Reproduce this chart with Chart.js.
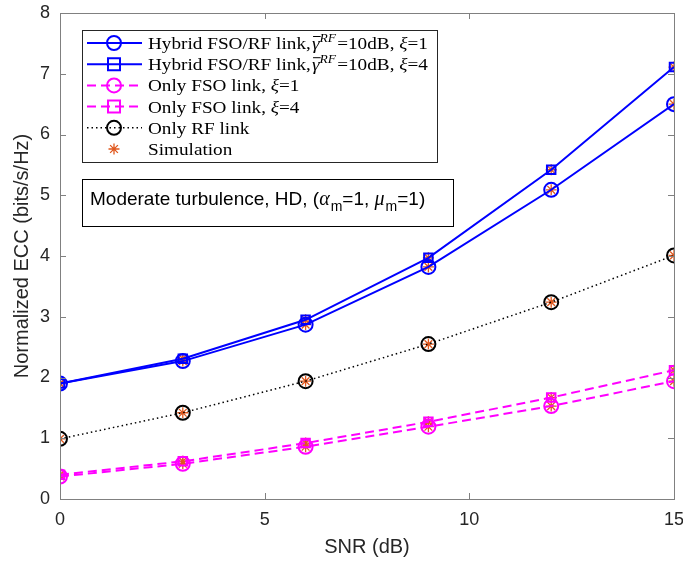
<!DOCTYPE html>
<html><head><meta charset="utf-8">
<script src="https://cdn.jsdelivr.net/npm/chart.js@4.4.0/dist/chart.umd.min.js"></script>
<style>html,body{margin:0;padding:0;background:#fff}#wrap{width:683px;height:563px;position:relative}</style>
</head><body><div id="wrap"><canvas id="c" width="683" height="563"></canvas></div>
<script>
const snr = [0, 3, 6, 9, 12, 15];
const hybridXi1 = [1.90, 2.27, 2.87, 3.82, 5.09, 6.50];
const hybridXi4 = [1.90, 2.31, 2.95, 3.97, 5.42, 7.11];
const fsoXi1 = [0.37, 0.58, 0.86, 1.19, 1.53, 1.94];
const fsoXi4 = [0.40, 0.62, 0.92, 1.27, 1.67, 2.12];
const rfOnly = [0.99, 1.42, 1.94, 2.55, 3.24, 4.01];
const xTicks = [0, 5, 10, 15];
const yTicks = [0, 1, 2, 3, 4, 5, 6, 7, 8];

const BLUE = '#0000ff', MAG = '#ff00ff', SIM = '#e0581e';
const pts = a => snr.map((x, i) => ({x, y: a[i]}));

const series = [
  {data: hybridXi1, color: BLUE, dash: [], width: 2, marker: 'circle', r: 7},
  {data: hybridXi4, color: BLUE, dash: [], width: 2, marker: 'rect', r: 6},
  {data: fsoXi1, color: MAG, dash: [9, 5], width: 2, marker: 'circle', r: 7},
  {data: fsoXi4, color: MAG, dash: [9, 5], width: 2, marker: 'rect', r: 6},
  {data: rfOnly, color: '#000', dash: [1.5, 3], width: 1.5, marker: 'circle', r: 7}
];

const datasets = series.map(s => ({
  data: pts(s.data), borderColor: s.color, backgroundColor: 'rgba(0,0,0,0)',
  borderWidth: s.width, borderDash: s.dash, showLine: true, pointStyle: s.marker,
  pointRadius: s.r, pointBorderWidth: 2, pointBorderColor: s.color, pointBackgroundColor: 'rgba(0,0,0,0)',
  tension: 0
}));
series.forEach(s => datasets.push({
  data: pts(s.data), showLine: false, pointStyle: 'star', pointRadius: 5.5,
  pointBorderColor: SIM, pointBackgroundColor: SIM, pointBorderWidth: 1.3, borderColor: SIM
}));

function drawSegs(ctx, x, y, segs, sx) {
  ctx.save();
  ctx.translate(x, y); ctx.scale(sx || 1, 1);
  let cx = 0;
  segs.forEach(s => {
    ctx.font = s.f;
    cx += (s.pre || 0);
    ctx.fillText(s.t, cx, (s.dy || 0));
    const w = ctx.measureText(s.t).width;
    if (s.over) {
      ctx.save(); ctx.lineWidth = 1; ctx.strokeStyle = '#000';
      ctx.beginPath(); ctx.moveTo(cx + 1, -12.5); ctx.lineTo(cx + w + 1, -12.5); ctx.stroke(); ctx.restore();
    }
    cx += w + (s.post || 0);
  });
  ctx.restore();
}

const decor = {
  id: 'decor',
  afterDraw(chart) {
    const ctx = chart.ctx, xs = chart.scales.x, ys = chart.scales.y, a = chart.chartArea;
    ctx.save();
    ctx.strokeStyle = '#808080'; ctx.lineWidth = 1; ctx.setLineDash([]);
    ctx.strokeRect(a.left + 0.5, a.top + 0.5, a.right - a.left, a.bottom - a.top);
    ctx.beginPath();
    xTicks.forEach(v => { const p = Math.round(xs.getPixelForValue(v)) + 0.5;
      ctx.moveTo(p, a.bottom); ctx.lineTo(p, a.bottom - 6); ctx.moveTo(p, a.top); ctx.lineTo(p, a.top + 6); });
    yTicks.forEach(v => { const p = Math.round(ys.getPixelForValue(v)) + 0.5;
      ctx.moveTo(a.left, p); ctx.lineTo(a.left + 6, p); ctx.moveTo(a.right, p); ctx.lineTo(a.right - 6, p); });
    ctx.stroke();

    const L = {x: 82, y: 30, w: 355, h: 132};
    ctx.fillStyle = '#fff'; ctx.fillRect(L.x, L.y, L.w, L.h);
    ctx.strokeStyle = '#262626'; ctx.lineWidth = 1;
    ctx.strokeRect(L.x + 0.5, L.y + 0.5, L.w, L.h);
    const serif = '17px "Liberation Serif", "DejaVu Serif", serif';
    const iserif = 'italic 17px "Liberation Serif", serif';
    const ssmall = 'italic 12px "Liberation Serif", serif';
    const rows = [
      [{t: 'Hybrid FSO/RF link,', f: serif}, {t: 'γ', f: iserif, over: true, pre: 1}, {t: 'RF', f: ssmall, dy: -7, post: 1}, {t: '=10dB, ', f: serif}, {t: 'ξ', f: iserif}, {t: '=1', f: serif}],
      [{t: 'Hybrid FSO/RF link,', f: serif}, {t: 'γ', f: iserif, over: true, pre: 1}, {t: 'RF', f: ssmall, dy: -7, post: 1}, {t: '=10dB, ', f: serif}, {t: 'ξ', f: iserif}, {t: '=4', f: serif}],
      [{t: 'Only FSO link, ', f: serif}, {t: 'ξ', f: iserif}, {t: '=1', f: serif}],
      [{t: 'Only FSO link, ', f: serif}, {t: 'ξ', f: iserif}, {t: '=4', f: serif}],
      [{t: 'Only RF link', f: serif}],
      [{t: 'Simulation', f: serif}]
    ];
    rows.forEach((r, i) => {
      const yy = 43 + i * 21.2;
      const s = series[i];
      ctx.save();
      if (s) {
        ctx.strokeStyle = s.color; ctx.lineWidth = s.width; ctx.setLineDash(s.dash);
        ctx.beginPath(); ctx.moveTo(87, yy); ctx.lineTo(142, yy); ctx.stroke();
        ctx.setLineDash([]); ctx.lineWidth = 2;
        ctx.beginPath();
        if (s.marker === 'circle') ctx.arc(114, yy, s.r, 0, Math.PI * 2);
        else ctx.rect(114 - s.r, yy - s.r, 2 * s.r, 2 * s.r);
        ctx.stroke();
      } else {
        ctx.strokeStyle = SIM; ctx.lineWidth = 1.3; ctx.beginPath();
        const rr = 5.5;
        ctx.moveTo(114 - rr, yy); ctx.lineTo(114 + rr, yy); ctx.moveTo(114, yy - rr); ctx.lineTo(114, yy + rr);
        const d = rr * 0.707;
        ctx.moveTo(114 - d, yy - d); ctx.lineTo(114 + d, yy + d); ctx.moveTo(114 - d, yy + d); ctx.lineTo(114 + d, yy - d);
        ctx.stroke();
      }
      ctx.restore();
      ctx.fillStyle = '#000'; ctx.textBaseline = 'alphabetic'; ctx.textAlign = 'left';
      drawSegs(ctx, 148, yy + 6, r, 1.13);
    });

    const A = {x: 82, y: 179, w: 371, h: 47};
    ctx.fillStyle = '#fff'; ctx.fillRect(A.x, A.y, A.w, A.h);
    ctx.strokeStyle = '#000'; ctx.strokeRect(A.x + 0.5, A.y + 0.5, A.w, A.h);
    ctx.fillStyle = '#000';
    const sans = '19px "Liberation Sans", Arial, sans-serif';
    const isans = 'italic 20px "Liberation Serif", serif';
    const sub = '14px "Liberation Sans", Arial, sans-serif';
    drawSegs(ctx, 90, 205, [
      {t: 'Moderate turbulence, HD, (', f: sans}, {t: 'α', f: isans, post: 1}, {t: 'm', f: sub, dy: 6},
      {t: '=1, ', f: sans}, {t: 'μ', f: isans, post: 1}, {t: 'm', f: sub, dy: 6}, {t: '=1)', f: sans}
    ], 1);
    ctx.restore();
  }
};

const SANS = '"Liberation Sans", Arial, sans-serif';
new Chart(document.getElementById('c'), {
  type: 'scatter',
  data: {datasets},
  options: {
    responsive: false, animation: false, devicePixelRatio: 1,
    layout: {padding: {top: 13, right: 6, left: 0, bottom: 0}},
    plugins: {legend: {display: false}, tooltip: {enabled: false}},
    scales: {
      x: {
        type: 'linear', min: 0, max: 15,
        afterBuildTicks: s => { s.ticks = xTicks.map(v => ({value: v})); },
        afterFit: s => { s.height = 64; s.paddingLeft = 0; s.paddingRight = 0; },
        grid: {display: false, drawTicks: false}, border: {display: false},
        ticks: {color: '#262626', font: {family: SANS, size: 18}, padding: 10, maxRotation: 0},
        title: {display: true, text: 'SNR (dB)', color: '#262626', font: {family: SANS, size: 20}, padding: {top: 1}}
      },
      y: {
        type: 'linear', min: 0, max: 8,
        afterBuildTicks: s => { s.ticks = yTicks.map(v => ({value: v})); },
        afterFit: s => { s.width = 60; s.paddingTop = 0; s.paddingBottom = 0; },
        grid: {display: false, drawTicks: false}, border: {display: false},
        ticks: {color: '#262626', font: {family: SANS, size: 18}, padding: 10},
        title: {display: true, text: 'Normalized ECC (bits/s/Hz)', color: '#262626', font: {family: SANS, size: 20}, padding: {top: 10, bottom: 4}}
      }
    }
  },
  plugins: [decor]
});
</script></body></html>
